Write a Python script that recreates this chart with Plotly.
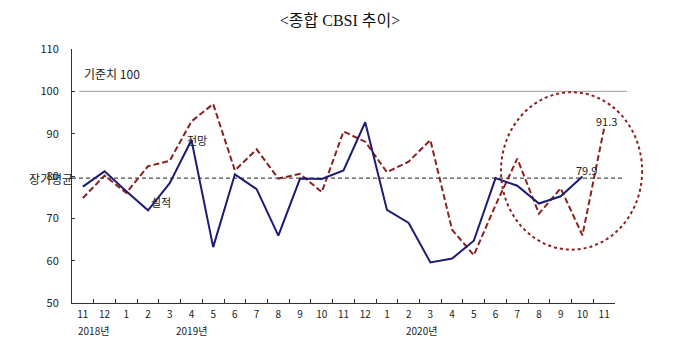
import plotly.graph_objects as go

# ---- data ----
categories = ["2018-11", "2018-12", "2019-01", "2019-02", "2019-03", "2019-04", "2019-05",
              "2019-06", "2019-07", "2019-08", "2019-09", "2019-10", "2019-11", "2019-12",
              "2020-01", "2020-02", "2020-03", "2020-04", "2020-05", "2020-06", "2020-07",
              "2020-08", "2020-09", "2020-10", "2020-11"]
month_labels = ["11", "12", "1", "2", "3", "4", "5", "6", "7", "8", "9", "10", "11", "12",
                "1", "2", "3", "4", "5", "6", "7", "8", "9", "10", "11"]
actual = [77.5, 81.1, 76.4, 71.9, 78.3, 88.5, 63.2, 80.4, 76.9, 65.9, 79.4, 79.3, 81.3, 92.7,
          72.0, 68.9, 59.6, 60.5, 64.7, 79.5, 77.7, 73.5, 75.2, 79.9, None]
outlook = [74.8, 80.1, 76.0, 82.3, 83.6, 92.9, 97.0, 81.3, 86.3, 79.4, 80.5, 76.2, 90.5, 88.1,
           80.9, 83.4, 88.5, 67.3, 61.3, 73.1, 84.1, 71.1, 77.1, 66.0, 91.3]
baseline = 100
long_term_avg = 79.5
year_labels = [("2018년", 0.5), ("2019년", 5.0), ("2020년", 15.6)]

FONT = "Noto Sans CJK KR"
NAVY = "#1c1c72"
RED = "#8b2020"

fig = go.Figure()
fig.add_trace(go.Scatter(x=categories, y=outlook, mode="lines", name="전망",
                         line=dict(color=RED, width=2, dash="6px,3px")))
fig.add_trace(go.Scatter(x=categories, y=actual, mode="lines", name="실적",
                         line=dict(color=NAVY, width=2)))

# reference lines
fig.add_shape(type="line", xref="paper", yref="y", x0=0.013, x1=1.022, y0=baseline, y1=baseline,
              line=dict(color="#9a9a9a", width=1), layer="below")
fig.add_shape(type="line", xref="paper", yref="y", x0=0.0, x1=1.018, y0=long_term_avg, y1=long_term_avg,
              line=dict(color="#222222", width=1, dash="4px,3px"), layer="below")
# highlight ellipse
fig.add_shape(type="circle", xref="paper", yref="y", x0=0.790, x1=1.050, y0=62.6, y1=99.8,
              line=dict(color=RED, width=2, dash="dot"))

ann = []
def txt(text, x, y, xref="x", yref="y", xanchor="center", size=11):
    ann.append(dict(text=text, x=x, y=y, xref=xref, yref=yref, xanchor=xanchor,
                    yanchor="middle", showarrow=False,
                    font=dict(family=FONT, size=size, color="#222222")))

txt("기준치 100", -0.02, 104.3, xanchor="left", size=12)
txt("전망", 5.27, 88.4)
txt("실적", 3.59, 73.9)
txt("79.9", 23.2, 81.5)
txt("91.3", 24.1, 92.9)
txt("장기평균", -0.039, 79.3, xref="paper", size=12)
for label, xpos in year_labels:
    txt(label, xpos, -0.11, yref="paper", size=10)

fig.update_layout(
    width=680, height=358,
    margin=dict(l=72, r=65, t=49, b=55),
    paper_bgcolor="white", plot_bgcolor="white",
    showlegend=False,
    title=dict(text="<종합 CBSI 추이>", x=0.5, xanchor="center", y=1 - 20 / 358,
               yanchor="middle", font=dict(family="Liberation Serif, " + FONT, size=16, color="#111111")),
    annotations=ann,
    xaxis=dict(type="category", range=[-0.5, 24.5], tickmode="array", tickvals=categories,
               ticktext=month_labels, tickson="boundaries", ticks="inside", ticklen=4,
               tickcolor="#333333", showline=True, linecolor="#333333", linewidth=1,
               showgrid=False, zeroline=False, ticklabelstandoff=2,
               tickfont=dict(family=FONT, size=10, color="#222222")),
    yaxis=dict(range=[50, 110], dtick=10, ticks="inside", ticklen=3, tickcolor="#333333",
               showline=True, linecolor="#333333", linewidth=1, showgrid=False, zeroline=False,
               ticklabelstandoff=10, tickfont=dict(family=FONT, size=11, color="#222222")),
)

fig.write_html("out.html", config={"displayModeBar": False},
               post_script="document.body.style.margin='0';document.body.style.overflow='hidden';")
